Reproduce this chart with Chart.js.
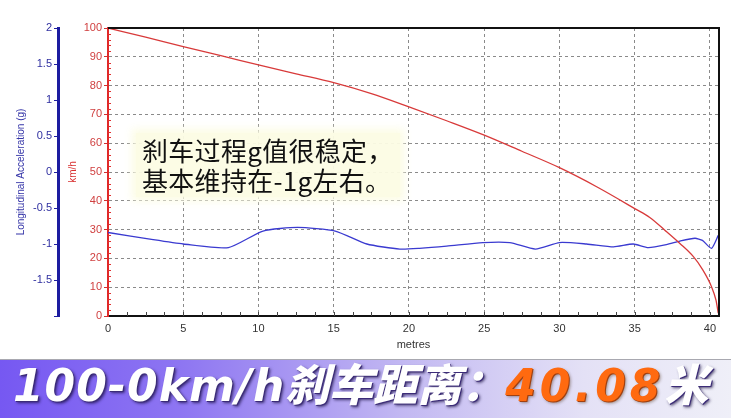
<!DOCTYPE html>
<html>
<head>
<meta charset="utf-8">
<script src="https://cdn.jsdelivr.net/npm/chart.js@4.4.0/dist/chart.umd.min.js"></script>
<style>
html, body { margin: 0; padding: 0; background: #fff; }
#wrap { position: relative; width: 731px; height: 418px; overflow: hidden; }
#chartBox { position: absolute; left: 0; top: 0; width: 731px; height: 358px; }
#note {
    position: absolute; left: 136px; top: 133px;
    padding: 2px 6px;
    background: rgba(252, 252, 228, 0.95);
    box-shadow: 0 0 8px 4px rgba(252, 252, 228, 0.95);
    font-family: "Noto Sans CJK SC", sans-serif;
    font-size: 26px; line-height: 30px; letter-spacing: 0.3px;
    color: #111;
}
#banner {
    position: absolute; left: 0; top: 359px; width: 731px; height: 59px;
    background: linear-gradient(90deg, #7658f2 0%, #8e76f2 25%, #c2b8f2 55%, #e4e1f6 80%, #efeff8 100%);
    border-top: 1px solid #a8a8b0;
}
#bannerText {
    position: absolute; left: 13px; top: -3px; white-space: nowrap; line-height: 50px;
    font-weight: bold; font-style: italic; color: #fff;
    text-shadow: 1px 1px 0 #3c2c78, 2px 2px 3px rgba(20, 10, 60, 0.7);
}
#bannerText .num { font-family: "DejaVu Sans", sans-serif; font-size: 44px; letter-spacing: 1px; }
#bannerText .cjk { font-family: "Noto Sans CJK SC", sans-serif; font-size: 44px; font-weight: 900; }
#bannerText .hot { color: #ff6a10; letter-spacing: 4px; text-shadow: 1px 1px 0 #a04010, 2px 2px 3px rgba(60, 30, 0, 0.4); }
</style>
</head>
<body>
<div id="wrap">
    <div id="chartBox"><canvas id="brakeChart" width="731" height="358"></canvas></div>
    <div id="note">刹车过程g值很稳定，<br>基本维持在-1g左右。</div>
    <div id="banner">
        <div id="bannerText"><span class="num">100-0km/h</span><span class="cjk">刹车距离：</span><span class="num hot">40.08</span><span class="cjk">米</span></div>
    </div>
</div>
<script>
// speed trace (km/h) against distance (metres)
const speedDist = [0, 2.5, 5, 7.5, 10, 12.5, 15, 17.5, 20, 22.5, 25, 27.5, 30, 32.5, 35, 36, 37, 38, 38.9, 39.5, 40.1, 40.4, 40.55];
const speedKmh  = [100, 96.8, 93.5, 90.4, 87.2, 84.1, 81.0, 77.2, 72.6, 67.8, 62.8, 57.2, 51.5, 44.8, 37.3, 34.2, 29.8, 25.2, 20.6, 16.2, 10.2, 5.5, 1.0];

// longitudinal acceleration (g) against distance (metres)
const accelDist = [0, 3, 5, 8, 10.3, 12.6, 15.1, 17.2, 19.4, 20.7, 22.5, 24.9, 26.7, 28.4, 30, 31.8, 33.6, 34.9, 35.9, 37.1, 38, 39, 39.5, 40.1, 40.55];
const accelG    = [-0.84, -0.94, -1.0, -1.05, -0.82, -0.77, -0.82, -1.0, -1.07, -1.06, -1.03, -0.98, -0.98, -1.07, -0.98, -1.0, -1.04, -1.0, -1.05, -1.01, -0.96, -0.92, -0.95, -1.06, -0.88];

// axis ranges
const xRange = [0, 40.6];
const speedRange = [0, 100];
const accelRange = [-2, 2];

const framePlugin = {
    id: 'frame',
    afterDraw(chart) {
        const ctx = chart.ctx, a = chart.chartArea, x = chart.scales.x, y = chart.scales.y;
        ctx.save();
        ctx.strokeStyle = '#111';
        ctx.lineWidth = 2;
        ctx.beginPath();
        ctx.moveTo(a.left, a.top);
        ctx.lineTo(a.right, a.top);
        ctx.lineTo(a.right, a.bottom);
        ctx.stroke();
        // minor ticks along the distance axis
        ctx.lineWidth = 1;
        ctx.strokeStyle = '#444';
        for (let v = 1.25; v < xRange[1]; v += 1.25) {
            const px = Math.round(x.getPixelForValue(v)) + 0.5;
            ctx.beginPath();
            ctx.moveTo(px, a.bottom);
            ctx.lineTo(px, a.bottom - 4);
            ctx.stroke();
        }
        // minor ticks along the speed axis
        ctx.strokeStyle = '#e03030';
        for (let v = 2; v < speedRange[1]; v += 2) {
            if (v % 10 === 0) continue;
            const py = Math.round(y.getPixelForValue(v)) + 0.5;
            ctx.beginPath();
            ctx.moveTo(a.left, py);
            ctx.lineTo(a.left + 3, py);
            ctx.stroke();
        }
        ctx.restore();
    }
};

const ctx = document.getElementById('brakeChart').getContext('2d');
new Chart(ctx, {
    type: 'line',
    data: {
        datasets: [{
            label: 'km/h',
            data: speedDist.map((d, i) => ({ x: d, y: speedKmh[i] })),
            yAxisID: 'y',
            borderColor: '#d83a3a',
            borderWidth: 1.3,
            pointRadius: 0,
            cubicInterpolationMode: 'monotone'
        }, {
            label: 'Longitudinal Acceleration (g)',
            data: accelDist.map((d, i) => ({ x: d, y: accelG[i] })),
            yAxisID: 'yG',
            borderColor: '#3a3ad0',
            borderWidth: 1.3,
            pointRadius: 0,
            tension: 0.2
        }]
    },
    options: {
        responsive: false,
        animation: false,
        maintainAspectRatio: false,
        layout: { padding: { left: 12, right: 12, top: 28, bottom: 0 } },
        plugins: { legend: { display: false }, tooltip: { enabled: false } },
        scales: {
            x: {
                type: 'linear',
                min: xRange[0], max: xRange[1],
                afterFit: s => { s.height = 42; },
                ticks: { stepSize: 5, includeBounds: false, color: '#333', padding: 6, font: { family: 'Liberation Sans', size: 11 } },
                grid: { color: '#8a8a8a', lineWidth: 1, drawTicks: false, tickLength: 0 },
                border: { color: '#111', width: 2, dash: [3, 3] },
                title: { display: true, text: 'metres', color: '#333', padding: { top: 0, bottom: 6 }, font: { family: 'Liberation Sans', size: 11 } }
            },
            y: {
                position: 'left',
                weight: 0,
                min: speedRange[0], max: speedRange[1],
                afterFit: s => { s.width = 50; },
                ticks: { stepSize: 10, color: '#d04040', padding: 2, font: { family: 'Liberation Sans', size: 11 } },
                grid: { color: '#8a8a8a', lineWidth: 1, tickLength: 4, tickColor: '#d03030' },
                border: { color: '#e02828', width: 2, dash: [3, 3] },
                title: { display: true, text: 'km/h', color: '#d83030', padding: { top: 9, bottom: 0 }, font: { family: 'Liberation Sans', size: 10 } }
            },
            yG: {
                position: 'left',
                weight: 1,
                min: accelRange[0], max: accelRange[1],
                afterFit: s => { s.width = 46; },
                ticks: { stepSize: 0.5, color: '#2f2fa0', padding: 2, font: { family: 'Liberation Sans', size: 11 },
                         callback: v => v === accelRange[0] ? '' : v },
                grid: { display: true, drawOnChartArea: false, tickLength: 4, tickColor: '#2020a0' },
                border: { color: '#1c1ca0', width: 3 },
                title: { display: true, text: 'Longitudinal Acceleration (g)', color: '#3535a8', padding: { top: 3, bottom: 0 }, font: { family: 'Liberation Sans', size: 10 } }
            }
        }
    },
    plugins: [framePlugin]
});
</script>
</body>
</html>
